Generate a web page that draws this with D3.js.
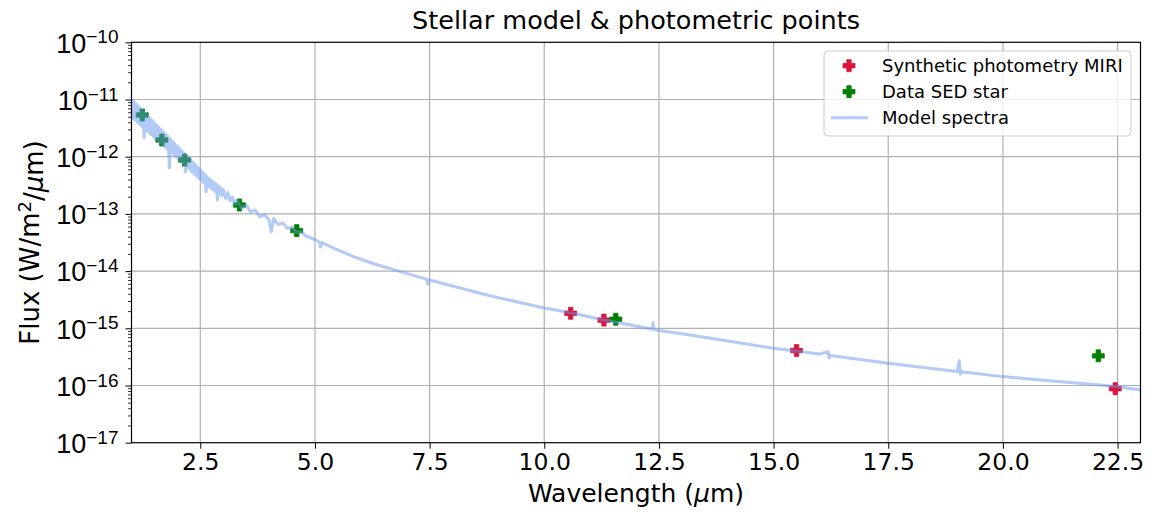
<!DOCTYPE html>
<html><head><meta charset="utf-8">
<script src="https://cdn.jsdelivr.net/npm/d3@7"></script>
<style>body{margin:0;background:#fff} svg{display:block;font-family:"DejaVu Sans",sans-serif}</style>
</head><body><svg id="c" width="1153" height="512"></svg>
<script>
// ---- data ----
const title = "Stellar model & photometric points";
const xTicks = [2.5, 5.0, 7.5, 10.0, 12.5, 15.0, 17.5, 20.0, 22.5];
const yDecades = [-17, -16, -15, -14, -13, -12, -11, -10];
const xDomain = [1, 23];
const yDomain = [1e-17, 1e-10];

const miriWave = [10.575, 11.3, 15.5, 22.45];
const miriFlux = [1.83e-15, 1.39e-15, 4.1e-16, 8.8e-17];

const sedWave = [1.235, 1.662, 2.159, 3.353, 4.603, 11.56, 22.08];
const sedFlux = [5.35e-12, 1.96e-12, 8.75e-13, 1.43e-13, 5.1e-14, 1.44e-15, 3.3e-16];

const modelWave = [
  1.000,1.025,1.050,1.075,1.100,1.125,1.150,1.175,1.200,1.225,1.250,1.275,1.300,1.325,1.350,1.375,1.400,1.425,1.450,1.475,
  1.500,1.525,1.550,1.575,1.600,1.625,1.650,1.675,1.700,1.725,1.750,1.775,1.800,1.825,1.850,1.875,1.900,1.925,1.950,1.975,
  2.000,2.025,2.050,2.075,2.100,2.125,2.150,2.175,2.200,2.225,2.250,2.275,2.300,2.325,2.350,2.375,2.400,2.425,2.450,2.475,
  2.500,2.525,2.550,2.575,2.600,2.625,2.650,2.675,2.700,2.725,2.750,2.775,2.800,2.825,2.850,2.875,2.900,2.925,2.950,2.975,
  3.00,3.05,3.10,3.15,3.20,3.25,3.30,3.40,3.50,3.60,3.70,3.80,3.90,4.00,4.05,
  4.10,4.20,4.30,4.40,4.50,4.60,4.70,4.80,5.00,5.10,5.12,5.15,5.50,5.91,6.30,6.79,7.44,7.46,7.48,8.00,
  8.75,9.06,10.0,10.55,11.3,11.6,12.0,12.35,12.37,12.39,12.5,13.0,14.0,15.0,16.0,16.19,16.21,16.23,17.5,18.5,
  19.0,19.05,19.07,19.1,20.0,21.0,22.0,22.5,23.0];
const modelFlux = [
  1.02e-11,4.74e-12,9.28e-12,4.37e-12,8.44e-12,4.02e-12,7.68e-12,3.70e-12,6.99e-12,3.41e-12,6.36e-12,2.12e-12,5.78e-12,2.89e-12,5.26e-12,2.66e-12,4.79e-12,2.45e-12,4.35e-12,2.26e-12,
  3.96e-12,2.08e-12,3.60e-12,1.91e-12,3.28e-12,1.76e-12,2.98e-12,1.62e-12,2.71e-12,1.49e-12,2.47e-12,1.38e-12,2.25e-12,6.34e-13,2.04e-12,1.17e-12,1.86e-12,1.07e-12,1.69e-12,9.89e-13,
  1.54e-12,9.09e-13,1.40e-12,8.33e-13,1.27e-12,7.64e-13,1.16e-12,5.40e-13,1.05e-12,6.43e-13,9.58e-13,5.89e-13,8.72e-13,5.40e-13,7.93e-13,4.95e-13,7.22e-13,4.55e-13,6.56e-13,4.17e-13,
  5.97e-13,3.83e-13,5.43e-13,3.53e-13,4.94e-13,2.44e-13,4.50e-13,2.98e-13,4.12e-13,2.81e-13,3.84e-13,2.64e-13,3.57e-13,2.49e-13,3.32e-13,1.75e-13,3.09e-13,2.21e-13,2.87e-13,2.08e-13,
  2.67e-13,1.87e-13,2.35e-13,1.70e-13,1.97e-13,1.45e-13,1.75e-13,1.26e-13,1.43e-13,1.07e-13,1.17e-13,8.87e-14,9.77e-14,7.82e-14,4.89e-14,
  8.32e-14,6.50e-14,6.93e-14,5.57e-14,5.84e-14,4.77e-14,4.92e-14,4.11e-14,3.57e-14,3.23e-14,2.64e-14,3.16e-14,2.33e-14,1.71e-14,1.33e-14,1.02e-14,7.15e-15,5.88e-15,7.05e-15,5.49e-15,
  3.82e-15,3.34e-15,2.26e-15,1.89e-15,1.40e-15,1.26e-15,1.10e-15,9.60e-16,1.25e-15,9.50e-16,9.16e-16,8.05e-16,6.0e-16,4.47e-16,3.56e-16,3.90e-16,3.03e-16,3.34e-16,2.44e-16,1.97e-16,
  1.76e-16,2.71e-16,1.58e-16,1.74e-16,1.43e-16,1.21e-16,1.04e-16,9.53e-17,8.34e-17];

const legendLabels = ["Synthetic photometry MIRI", "Data SED star", "Model spectra"];
const colors = {miri: "#dc143c", sed: "#008000", model: "cornflowerblue"};

// ---- layout ----
const svg = d3.select("#c");
const L = 131.5, R = 1140.5, T = 42.3, B = 442.7;
const x = d3.scaleLinear().domain(xDomain).range([L, R]);
const y = d3.scaleLog().domain(yDomain).range([B, T]);

svg.append("rect").attr("width",1153).attr("height",512).attr("fill","#fff");

// grid
const grid = svg.append("g").attr("stroke","#b0b0b0").attr("stroke-width",1.2);
grid.selectAll("line.gx").data(xTicks).join("line")
  .attr("x1", d=>x(d)).attr("x2", d=>x(d)).attr("y1", T).attr("y2", B);
grid.selectAll("line.gy").data(yDecades.slice(1,-1)).join("line")
  .attr("y1", d=>y(Math.pow(10,d))).attr("y2", d=>y(Math.pow(10,d))).attr("x1", L).attr("x2", R);

svg.append("clipPath").attr("id","clip").append("rect")
  .attr("x",L).attr("y",T).attr("width",R-L).attr("height",B-T);
const plot = svg.append("g").attr("clip-path","url(#clip)");

function plus(cx, cy, s, a){
  return `M${cx-a},${cy-s}H${cx+a}V${cy-a}H${cx+s}V${cy+a}H${cx+a}V${cy+s}H${cx-a}V${cy+a}H${cx-s}V${cy-a}H${cx-a}Z`;
}
const S = 6, A = 2.2;
plot.selectAll("path.miri").data(miriWave).join("path")
  .attr("d",(d,i)=>plus(x(d), y(miriFlux[i]), S, A))
  .attr("fill",colors.miri).attr("stroke",colors.miri).attr("stroke-width",0.8);
plot.selectAll("path.sed").data(sedWave).join("path")
  .attr("d",(d,i)=>plus(x(d), y(sedFlux[i]), S, A))
  .attr("fill",colors.sed).attr("stroke",colors.sed).attr("stroke-width",0.8);

const line = d3.line().x(d=>x(d[0])).y(d=>y(d[1]));
plot.append("path").datum(modelWave.map((w,i)=>[w, modelFlux[i]]))
  .attr("d", line).attr("fill","none").attr("stroke",colors.model)
  .attr("stroke-opacity",0.5).attr("stroke-width",3).attr("stroke-linejoin","round");

// axes
const xAxis = svg.append("g").attr("transform",`translate(0,${B})`)
  .call(d3.axisBottom(x).tickValues(xTicks).tickFormat(d3.format(".1f")).tickSize(6).tickPadding(5));
xAxis.select(".domain").remove();
xAxis.selectAll("line").attr("stroke","#000").attr("stroke-width",1);
xAxis.selectAll("text").attr("font-size",23.5).attr("fill","#000").attr("font-family","DejaVu Sans");

const minor = [];
yDecades.slice(0,-1).forEach(e=>{ for(let k=2;k<=9;k++) minor.push(k*Math.pow(10,e)); });
const yMinor = svg.append("g").attr("transform",`translate(${L},0)`)
  .call(d3.axisLeft(y).tickValues(minor).tickFormat("").tickSize(3.5));
yMinor.select(".domain").remove();
yMinor.selectAll("line").attr("stroke","#000").attr("stroke-width",0.8);

const yAxis = svg.append("g").attr("transform",`translate(${L},0)`)
  .call(d3.axisLeft(y).tickValues(yDecades.map(e=>Math.pow(10,e))).tickFormat("").tickSize(6));
yAxis.select(".domain").remove();
yAxis.selectAll("line").attr("stroke","#000").attr("stroke-width",1);
yAxis.selectAll("g.tick").each(function(d,i){
  const e = Math.round(Math.log10(d));
  const t = d3.select(this).append("text").attr("x",-13).attr("dy","0.36em")
    .attr("text-anchor","end").attr("font-size",27).attr("fill","#000");
  t.append("tspan").text("10");
  t.append("tspan").attr("dy","-0.48em").attr("font-size",19).text("\u2212"+Math.abs(e));
});

// frame
svg.append("rect").attr("x",L).attr("y",T).attr("width",R-L).attr("height",B-T)
  .attr("fill","none").attr("stroke","#000").attr("stroke-width",1.2);

// labels
svg.append("text").attr("x",(L+R)/2).attr("y",29).attr("text-anchor","middle")
  .attr("font-size",25.5).attr("fill","#000").text(title);
const xl = svg.append("text").attr("x",(L+R)/2).attr("y",502).attr("text-anchor","middle")
  .attr("font-size",25).attr("fill","#000");
xl.append("tspan").text("Wavelength (");
xl.append("tspan").attr("font-style","italic").text("\u03bc");
xl.append("tspan").text("m)");
const yl = svg.append("text").attr("transform",`translate(39,${(T+B)/2}) rotate(-90)`)
  .attr("text-anchor","middle").attr("font-size",26).attr("fill","#000");
yl.append("tspan").text("Flux (W/m");
yl.append("tspan").attr("dy","-0.45em").attr("font-size",18).text("2");
yl.append("tspan").attr("dy","0.45em").text("/");
yl.append("tspan").attr("font-style","italic").text("\u03bc");
yl.append("tspan").text("m)");

// legend
const lg = svg.append("g");
lg.append("rect").attr("x",824).attr("y",51).attr("width",307).attr("height",85).attr("rx",4)
  .attr("fill","#fff").attr("fill-opacity",0.8).attr("stroke","#cccccc").attr("stroke-width",1);
const rows = [65.7, 91.7, 117.7];
lg.append("path").attr("d",plus(849, rows[0], S, A)).attr("fill",colors.miri).attr("stroke",colors.miri).attr("stroke-width",0.8);
lg.append("path").attr("d",plus(849, rows[1], S, A)).attr("fill",colors.sed).attr("stroke",colors.sed).attr("stroke-width",0.8);
lg.append("line").attr("x1",831).attr("x2",868).attr("y1",rows[2]).attr("y2",rows[2])
  .attr("stroke",colors.model).attr("stroke-opacity",0.5).attr("stroke-width",3);
lg.selectAll("text").data(legendLabels).join("text")
  .attr("x",882).attr("y",(d,i)=>rows[i]).attr("dy","0.36em").attr("font-size",18).attr("fill","#000").text(d=>d);
</script></body></html>
